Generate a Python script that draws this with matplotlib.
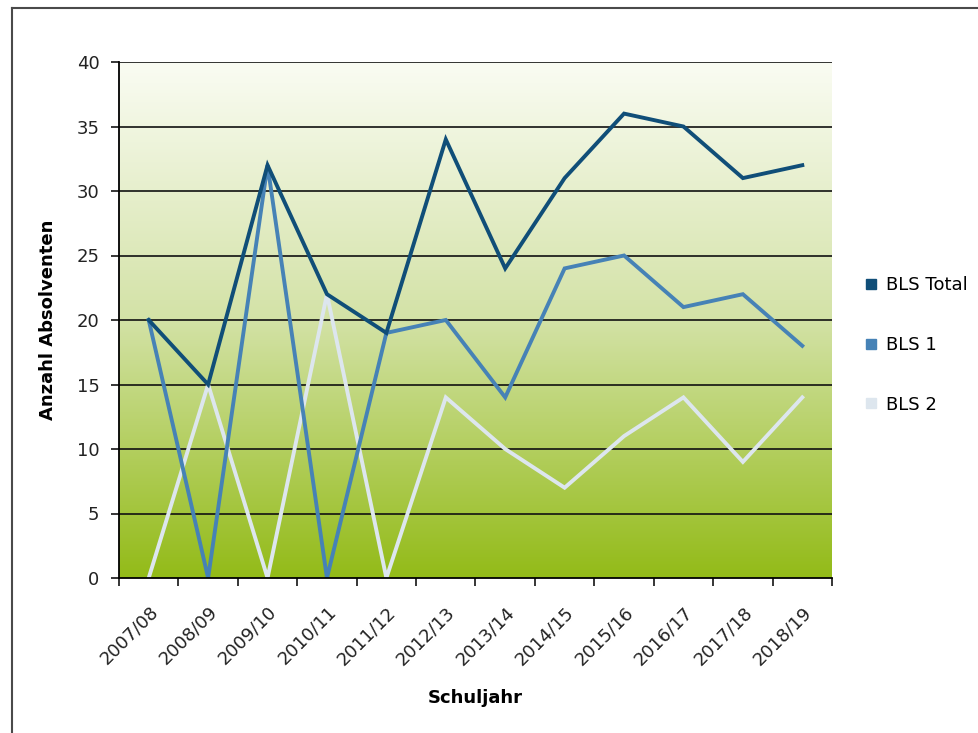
import matplotlib
matplotlib.use("Agg")
import matplotlib.pyplot as plt
import numpy as np
from matplotlib.lines import Line2D
from matplotlib.colors import LinearSegmentedColormap
import matplotlib.transforms as mtransforms

years = ["2007/08", "2008/09", "2009/10", "2010/11", "2011/12", "2012/13",
         "2013/14", "2014/15", "2015/16", "2016/17", "2017/18", "2018/19"]
bls_total = [20, 15, 32, 22, 19, 34, 24, 31, 36, 35, 31, 32]
bls_1 = [20, 0, 32, 0, 19, 20, 14, 24, 25, 21, 22, 18]
bls_2 = [0, 15, 0, 22, 0, 14, 10, 7, 11, 14, 9, 14]
series_names = ["BLS Total", "BLS 1", "BLS 2"]
series_colors = ["#104e78", "#4682b6", "#dde6ee"]
y_ticks = [0, 5, 10, 15, 20, 25, 30, 35, 40]

plt.rcParams['font.family'] = ['DejaVu Sans']

W, H = 979, 733
fig = plt.figure(figsize=(W / 100, H / 100), dpi=100)
ax = fig.add_axes([119 / W, 1 - 578 / H, (832 - 119) / W, (578 - 62) / H])

# gradient background
cmap = LinearSegmentedColormap.from_list(
    "g", [(0, "#93bb18"), (0.5, "#d3e2a6"), (1, "#fafcf3")])
grad = np.linspace(0, 1, 256).reshape(-1, 1)
ax.imshow(grad, extent=[0, 1, 0, 1], transform=ax.transAxes, aspect="auto",
          cmap=cmap, origin="lower", zorder=0)

n = len(years)
x = np.arange(n)
for vals, name, col in zip([bls_total, bls_1, bls_2][::-1], series_names[::-1], series_colors[::-1]):
    ax.plot(x, vals, color=col, lw=2.8, zorder=3, solid_joinstyle="miter")

ax.set_xlim(-0.5, n - 0.5)
ax.set_ylim(0, 40)
ax.set_yticks(y_ticks)
ax.set_yticklabels([str(v) for v in y_ticks], fontsize=13, color="#222222")
for v in y_ticks[1:]:
    ax.axhline(v, color="#111111", lw=1.2, zorder=2)

ax.set_xticks(np.arange(n + 1) - 0.5)
ax.set_xticklabels([])
ax.set_xticks(x, minor=True)
labels = ax.set_xticklabels(years, minor=True, rotation=45, ha="right", va="top",
                            rotation_mode="anchor", fontsize=13, color="#222222")
offset = mtransforms.ScaledTranslation(8 / 100, 0, fig.dpi_scale_trans)
for lab in labels:
    lab.set_transform(lab.get_transform() + offset)
ax.tick_params(axis="x", which="minor", length=0, pad=18)
ax.tick_params(axis="x", which="major", length=6, width=1.1, direction="out")
ax.tick_params(axis="y", length=6, width=1.1, direction="out", pad=8)

for s in ["top", "right"]:
    ax.spines[s].set_visible(False)
for s in ["left", "bottom"]:
    ax.spines[s].set_linewidth(1.3)
    ax.spines[s].set_zorder(4)

ax.set_xlabel("Schuljahr", fontsize=13, fontweight="bold", labelpad=15)
ax.set_ylabel("Anzahl Absolventen", fontsize=13, fontweight="bold", labelpad=14)

handles = [Line2D([], [], marker="s", linestyle="none", markersize=7,
                  markerfacecolor=c, markeredgecolor=c) for c in series_colors]
fig.legend(handles, series_names, loc="center left",
           bbox_to_anchor=(846 / W, 1 - 345 / H), frameon=False, fontsize=13,
           labelspacing=2.3, handletextpad=0.3, handlelength=1.0)

# frame border
fig.add_artist(Line2D([12 / W, 12 / W], [0, 1 - 8 / H], transform=fig.transFigure,
                      color="#4a4a4a", lw=1.5))
fig.add_artist(Line2D([12 / W, 1], [1 - 8 / H, 1 - 8 / H], transform=fig.transFigure,
                      color="#4a4a4a", lw=1.5))

fig.savefig("out.png", dpi=100)
